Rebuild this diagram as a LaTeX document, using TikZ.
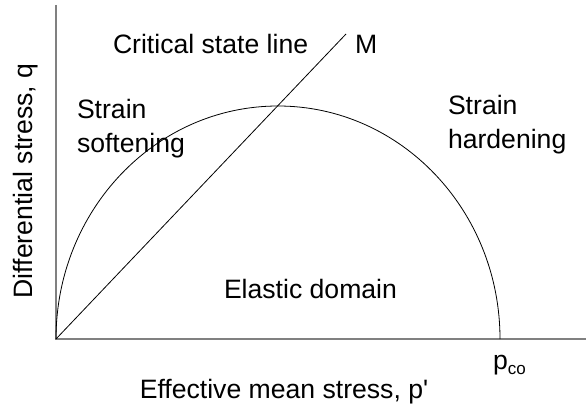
\documentclass[tikz,border=0pt]{standalone}
\usepackage{fontspec}
\setmainfont{Liberation Sans}[Ligatures=TeXOff]
\begin{document}
\begin{tikzpicture}[x=1pt,y=-1pt,
  lbl/.style={inner sep=0pt, outer sep=0pt, font=\fontsize{26.6}{33}\selectfont, text=black},
  axis/.style={draw=black!50, line width=1.6pt},
  curve/.style={draw=black, line width=0.8pt}]
\useasboundingbox (0,0) rectangle (586,409);
\coordinate (O) at (56,339);
\coordinate (ytop) at (56,5);
\coordinate (xend) at (586,339);
\coordinate (pc) at (500,339);
\coordinate (Mend) at (346,34);
\draw[axis] (ytop) -- (O) -- (xend);
\draw[curve] (pc) arc[start angle=0, end angle=180, x radius=222pt, y radius=233pt];
\draw[curve] (O) -- (Mend);
\node[lbl, anchor=base west] (csl) at (113,54) {Critical state line};
\node[lbl, anchor=base west] (M) at (355,54) {M};
\node[lbl, anchor=base west, align=left] (soft) at (77,152) {Strain\\softening};
\node[lbl, anchor=base west, align=left] (hard) at (448,148) {Strain\\hardening};
\node[lbl, anchor=base west] (el) at (224,298) {Elastic domain};
\node[lbl, anchor=base] (xl) at (284,398) {Effective mean stress, p'};
\node[lbl, anchor=base, rotate=90] (yl) at (32,181) {Differential stress, q};
\node[lbl, anchor=base west] (pco) at (493,369) {p\raisebox{-5pt}{\fontsize{17}{17}\selectfont co}};
\end{tikzpicture}
\end{document}
